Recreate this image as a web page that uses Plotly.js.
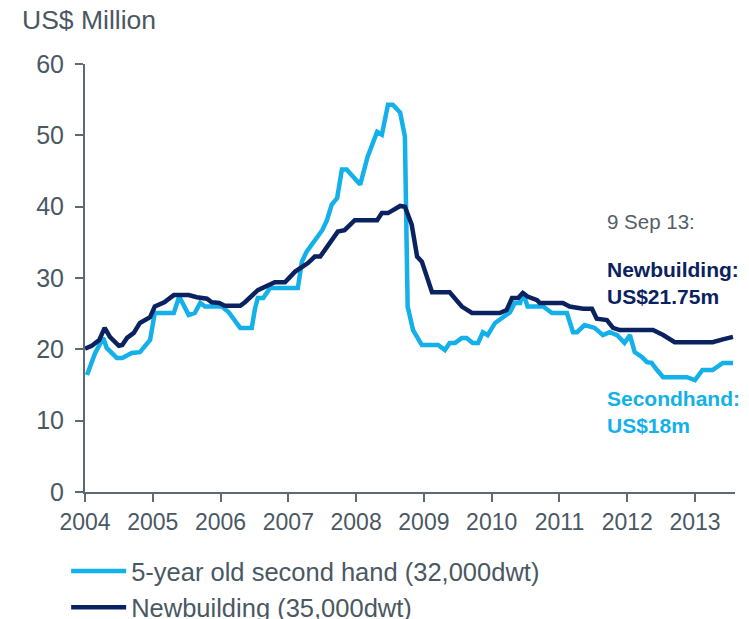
<!DOCTYPE html>
<html>
<head>
<meta charset="utf-8">
<script src="https://cdn.plot.ly/plotly-3.0.1.min.js"></script>
<style>html,body{margin:0;padding:0;background:#fff;}#chart{width:749px;height:619px;}</style>
</head>
<body>
<div id="chart"></div>
<script>
// Dates as decimal years
const secondhandX = [2004.03,2004.15,2004.27,2004.32,2004.47,2004.55,2004.69,2004.81,2004.96,2005.03,2005.31,2005.39,2005.53,2005.62,2005.70,2005.77,2006.02,2006.12,2006.29,2006.46,2006.51,2006.55,2006.63,2006.73,2007.14,2007.20,2007.27,2007.36,2007.50,2007.57,2007.64,2007.72,2007.79,2007.86,2008.06,2008.17,2008.31,2008.38,2008.47,2008.54,2008.65,2008.72,2008.76,2008.84,2008.97,2009.21,2009.31,2009.38,2009.46,2009.56,2009.63,2009.72,2009.80,2009.87,2009.94,2010.05,2010.15,2010.27,2010.34,2010.42,2010.46,2010.53,2010.76,2010.89,2011.11,2011.20,2011.26,2011.37,2011.52,2011.64,2011.74,2011.85,2011.96,2012.04,2012.11,2012.22,2012.29,2012.36,2012.44,2012.53,2012.88,2013.00,2013.11,2013.26,2013.41,2013.56];
const secondhandY = [16.4,19.5,21.6,20.2,18.8,18.8,19.5,19.6,21.3,25.1,25.1,27.4,24.8,25.1,26.5,26.0,26.0,25.2,23.0,23.0,25.8,27.2,27.2,28.6,28.6,32.3,33.7,34.9,36.7,38.1,40.3,41.2,45.2,45.2,43.1,47.0,50.5,50.1,54.3,54.3,53.2,49.8,26.0,22.7,20.6,20.6,19.9,20.9,20.9,21.6,21.6,20.9,20.9,22.4,22.0,23.7,24.4,25.2,26.5,26.5,28.0,26.0,26.0,25.1,25.1,22.4,22.4,23.4,23.0,22.0,22.4,22.0,20.9,22.0,19.6,18.9,18.2,18.1,17.1,16.1,16.1,15.7,17.1,17.1,18.1,18.1];
const newbuildX = [2004.00,2004.10,2004.21,2004.29,2004.37,2004.50,2004.55,2004.62,2004.72,2004.81,2004.96,2005.03,2005.17,2005.31,2005.53,2005.65,2005.80,2005.87,2005.98,2006.06,2006.29,2006.36,2006.55,2006.80,2006.95,2007.10,2007.29,2007.39,2007.47,2007.58,2007.73,2007.83,2007.98,2008.31,2008.38,2008.47,2008.65,2008.72,2008.82,2008.90,2008.97,2009.12,2009.38,2009.56,2009.71,2010.12,2010.22,2010.30,2010.39,2010.46,2010.53,2010.67,2010.71,2011.05,2011.15,2011.35,2011.48,2011.55,2011.70,2011.79,2011.89,2012.38,2012.53,2012.70,2013.26,2013.41,2013.56];
const newbuildY = [20.1,20.5,21.3,23.0,21.7,20.5,20.6,21.6,22.3,23.7,24.5,26.0,26.6,27.6,27.6,27.3,27.1,26.6,26.5,26.1,26.1,26.6,28.3,29.4,29.4,30.9,32.1,33.0,33.0,34.6,36.5,36.7,38.1,38.1,39.1,39.1,40.1,40.0,37.5,33.0,32.3,28.0,28.0,26.0,25.1,25.1,25.5,27.2,27.2,27.9,27.4,26.9,26.5,26.5,26.0,25.7,25.7,24.3,24.1,23.0,22.7,22.7,22.0,21.0,21.0,21.4,21.75];
const yearTicks = [2004,2005,2006,2007,2008,2009,2010,2011,2012,2013];
const yearLabels = ["2004","2005","2006","2007","2008","2009","2010","2011","2012","2013"];
const seriesNames = ["5-year old second hand (32,000dwt)", "Newbuilding (35,000dwt)"];

const LIGHT = "#13b0ea", NAVY = "#0b2260", AX = "#5b6a74", TXT = "#4a5863";
const FONT = "Arial, 'Liberation Sans', sans-serif";

const traces = [
  {x: secondhandX, y: secondhandY, name: seriesNames[0], type: "scatter", mode: "lines",
   line: {color: LIGHT, width: 4.5, shape: "linear"}},
  {x: newbuildX, y: newbuildY, name: seriesNames[1], type: "scatter", mode: "lines",
   line: {color: NAVY, width: 4.5, shape: "linear"}}
];

const layout = {
  width: 749, height: 619,
  margin: {l: 85, r: 14, t: 64, b: 127, pad: 0},
  paper_bgcolor: "#fff", plot_bgcolor: "#fff",
  font: {family: FONT, color: TXT},
  showlegend: true,
  legend: {orientation: "v", xref: "paper", yref: "container",
           x: -0.029, xanchor: "left", y: 1 - 548/619, yanchor: "top",
           font: {size: 25.5, color: TXT, family: FONT}, itemwidth: 55, tracegroupgap: 0,
           bgcolor: "rgba(0,0,0,0)"},
  xaxis: {range: [2004, 2013.59], tickmode: "array", tickvals: yearTicks, ticktext: yearLabels,
          ticks: "outside", ticklen: 8, tickwidth: 2, tickcolor: AX,
          showline: true, linecolor: AX, linewidth: 2, showgrid: false, zeroline: false,
          tickfont: {size: 23, color: TXT, family: FONT}, fixedrange: true},
  yaxis: {range: [0, 60], dtick: 10, tick0: 0, ticks: "outside", ticklen: 8, tickwidth: 2, tickcolor: AX,
          showline: true, linecolor: AX, linewidth: 2, showgrid: false, zeroline: false,
          tickfont: {size: 25, color: TXT, family: FONT}, ticklabelstandoff: 6, fixedrange: true},
  annotations: [
    {text: "US$ Million", xref: "paper", yref: "paper", x: -0.1, y: 1.103, xanchor: "left", yanchor: "middle",
     showarrow: false, font: {size: 26.5, color: TXT, family: FONT}},
    {text: "9 Sep 13:", xref: "paper", yref: "paper", x: 0.8, y: 0.631, xanchor: "left", yanchor: "middle",
     showarrow: false, font: {size: 20.5, color: "#555f66", family: FONT}},
    {text: "<b>Newbuilding:</b><br><b>US$21.75m</b>", xref: "paper", yref: "paper", x: 0.8, y: 0.488, xanchor: "left", yanchor: "middle", align: "left",
     showarrow: false, font: {size: 21, color: NAVY, family: FONT}},
    {text: "<b>Secondhand:</b><br><b>US$18m</b>", xref: "paper", yref: "paper", x: 0.8, y: 0.187, xanchor: "left", yanchor: "middle", align: "left",
     showarrow: false, font: {size: 21, color: LIGHT, family: FONT}}
  ]
};

Plotly.newPlot("chart", traces, layout, {displayModeBar: false, staticPlot: true});
</script>
</body>
</html>
